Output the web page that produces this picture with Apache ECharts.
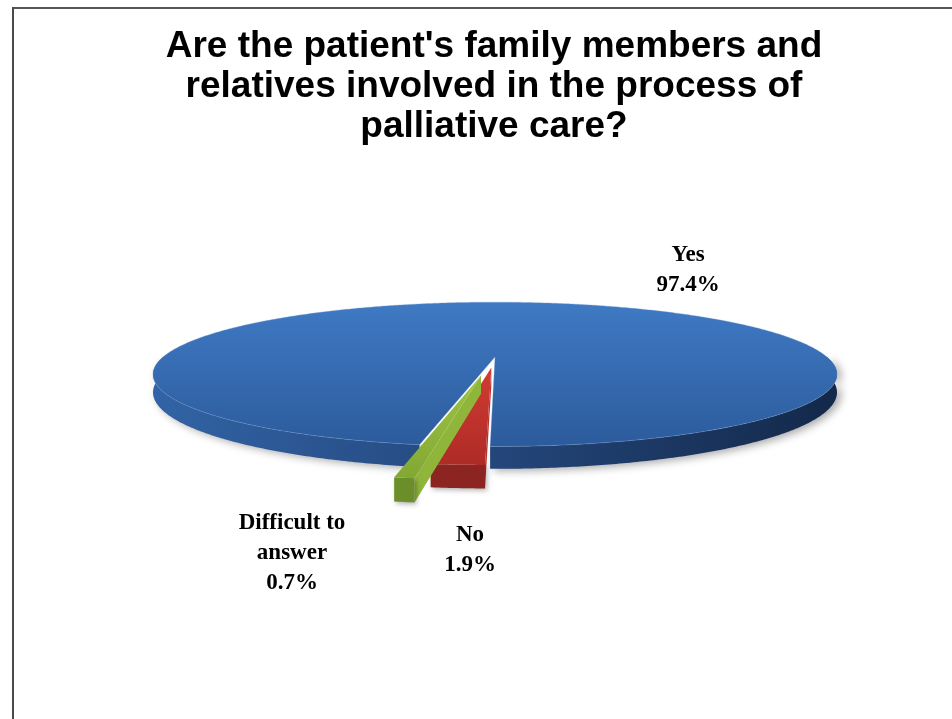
<!DOCTYPE html>
<html>
<head>
<meta charset="utf-8">
<script src="https://cdn.jsdelivr.net/npm/echarts@6/dist/echarts.min.js"></script>
<style>html,body{margin:0;padding:0;background:#fff}#c{width:952px;height:719px}</style>
</head>
<body>
<div id="c"></div>
<script>
// ---- data ----
const categories = ['Yes', 'No', 'Difficult to answer'];
const labelNames = ['Yes', 'No', 'Difficult to\nanswer'];
const values = [97.4, 1.9, 0.7];
const titleText = "Are the patient's family members and\nrelatives involved in the process of\npalliative care?";

// ---- layout / style (not data) ----
const CX = 495, CY = 357, RX = 332, RY = 68, K = 0.24, D = 17, START = 190;
const explode = [0, 0.15, 0.26];
const labelPos = [[688, 270], [470, 550], [292, 553]];
const topColors = [['#3f7ac4', '#2c5b9c'], ['#d23b33', '#ae2b26'], ['#9ec443', '#82a834']];
const wallColors = [null, '#8c2421', '#6b8d2a'];
const faceColors = [null, '#b9302b', '#8fb63a'];

const total = values.reduce((a, b) => a + b, 0);
const starts = [];
(function () { let acc = 0; values.forEach(v => { starts.push(START + acc / total * 360); acc += v; }); })();

function P(u, v, h) {
  const s = 1 / (1 - K * v);
  return [CX + RX * u * s, CY + (RY * v + D * h) * s];
}
function arcPts(a0, a1, ex, ey, h) {
  const n = Math.max(2, Math.ceil((a1 - a0) / 0.5));
  const pts = [];
  for (let j = 0; j <= n; j++) {
    const f = (a0 + (a1 - a0) * j / n) * Math.PI / 180;
    pts.push(P(Math.sin(f) + ex, -Math.cos(f) + ey, h));
  }
  return pts;
}

const yesWallGrad = new echarts.graphic.LinearGradient(CX - RX * 1.05, 0, CX + RX * 1.05, 0, [
  { offset: 0, color: '#3264a6' },
  { offset: 0.45, color: '#25497f' },
  { offset: 1, color: '#132849' }
], true);

function renderItem(params, api) {
  const i = params.dataIndex;
  const val = api.value(1);
  const a0 = starts[i];
  const a1 = a0 + val / total * 360;
  const mid = (a0 + a1) / 2 * Math.PI / 180;
  const e = explode[i];
  const ex = e * Math.sin(mid), ey = -e * Math.cos(mid);
  const children = [];
  const norm = a => ((a % 360) + 360) % 360;
  function face(a) {
    const f = a * Math.PI / 180;
    const u = Math.sin(f) + ex, v = -Math.cos(f) + ey;
    return {
      type: 'polygon',
      shape: { points: [P(ex, ey, 0), P(u, v, 0), P(u, v, 1), P(ex, ey, 1)] },
      style: { fill: faceColors[i] }
    };
  }
  const n0 = norm(a0), n1 = norm(a1);
  if (faceColors[i]) {
    if (n0 > 180 && n0 < 270) children.push(face(a0));
    if (n1 > 90 && n1 < 180) children.push(face(a1));
  }
  for (let k = -1; k <= 2; k++) {
    const lo = Math.max(a0, 90 + 360 * k), hi = Math.min(a1, 270 + 360 * k);
    if (hi > lo) {
      const top = arcPts(lo, hi, ex, ey, 0);
      const bot = arcPts(lo, hi, ex, ey, 1).reverse();
      children.push({
        type: 'polygon',
        shape: { points: top.concat(bot) },
        style: i === 0 ? {
          fill: yesWallGrad, shadowBlur: 8, shadowOffsetX: 4, shadowOffsetY: 2,
          shadowColor: 'rgba(0,0,0,0.35)'
        } : { fill: wallColors[i], shadowBlur: 5, shadowOffsetX: 2, shadowOffsetY: 2, shadowColor: 'rgba(0,0,0,0.3)' }
      });
    }
  }
  const topPts = [P(ex, ey, 0)].concat(arcPts(a0, a1, ex, ey, 0));
  children.push({
    type: 'polygon',
    shape: { points: topPts },
    style: {
      fill: new echarts.graphic.LinearGradient(0, 0, 0, 1, [
        { offset: 0, color: topColors[i][0] }, { offset: 1, color: topColors[i][1] }
      ]),
      stroke: i === 0 ? 'rgba(120,160,215,0.35)' : null,
      lineWidth: 1
    }
  });
  children.push({
    type: 'text',
    style: {
      text: labelNames[i] + '\n' + val.toFixed(1) + '%',
      x: labelPos[i][0], y: labelPos[i][1],
      align: 'center', verticalAlign: 'middle',
      fontFamily: 'Liberation Serif', fontWeight: 'bold', fontSize: 23,
      lineHeight: 30, fill: '#000'
    }
  });
  return { type: 'group', children };
}

const chart = echarts.init(document.getElementById('c'), null, { renderer: 'canvas' });
chart.setOption({
  backgroundColor: '#fff',
  animation: false,
  title: {
    text: titleText,
    left: 489, top: 22, textAlign: 'center',
    textStyle: { fontFamily: 'Liberation Sans', fontWeight: 'bold', fontSize: 37, lineHeight: 40, color: '#000' }
  },
  graphic: [
    { type: 'line', shape: { x1: 12, y1: 8, x2: 952, y2: 8 }, style: { stroke: '#555', lineWidth: 2 } },
    { type: 'line', shape: { x1: 13, y1: 7, x2: 13, y2: 719 }, style: { stroke: '#4a4a4a', lineWidth: 2 } }
  ],
  series: [{
    type: 'custom',
    coordinateSystem: 'none',
    renderItem: renderItem,
    data: values.map((v, i) => ({ name: categories[i], value: [i, v] }))
  }]
});
</script>
</body>
</html>
